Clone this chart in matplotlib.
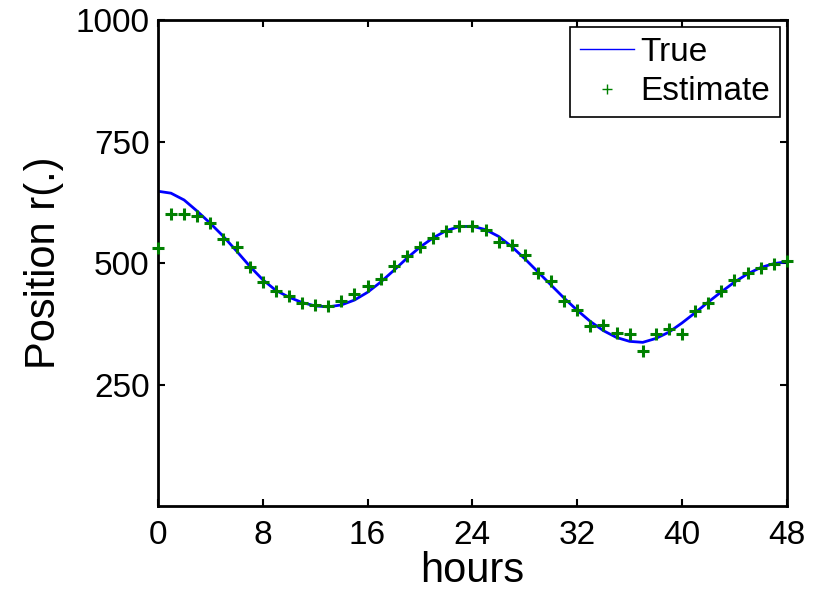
import matplotlib
matplotlib.use('Agg')
import matplotlib.pyplot as plt
from matplotlib.lines import Line2D

plt.rcParams['font.family'] = ['Liberation Sans', 'DejaVu Sans']

# hourly samples, 0..48 h
hours = list(range(0, 49))

true_pos = [648, 644, 630, 607, 582, 555, 525, 494, 466, 444,
            430, 419, 412, 410, 414, 424, 440, 461, 485, 510,
            533, 552, 567, 575, 576, 569, 555, 534, 509, 482,
            455, 428, 403, 380, 361, 347, 339, 337, 345, 358,
            377, 398, 420, 441, 461, 478, 491, 499, 503]

est_pos = [531, 601, 602, 597, 582, 550, 534, 492, 461, 442,
           433, 417, 414, 412, 422, 436, 453, 468, 495, 515,
           534, 552, 566, 576, 576, 569, 544, 538, 516, 480,
           463, 422, 403, 371, 373, 357, 355, 319, 355, 365,
           354, 402, 418, 443, 465, 479, 489, 499, 504]

xticks = [0, 8, 16, 24, 32, 40, 48]
yticks = [250, 500, 750, 1000]

fig = plt.figure(figsize=(8.18, 5.94), dpi=100)
ax = fig.add_axes([0.193, 0.148, 0.769, 0.818])

ax.plot(hours, true_pos, color='blue', lw=2.0)
ax.plot(hours, est_pos, '+', color=(0, 0.5, 0), markersize=9, mew=2.2,
        clip_on=False, zorder=3)

ax.set_xlim(0, 48)
ax.set_ylim(0, 1000)
ax.set_xticks(xticks)
ax.set_yticks(yticks)
ax.tick_params(direction='in', length=5, width=1.5, labelsize=24,
               top=True, right=True)
ax.tick_params(axis='x', pad=10)
ax.tick_params(axis='y', pad=6)
for s in ax.spines.values():
    s.set_linewidth(2)

ax.set_xlabel('hours', fontsize=30, labelpad=0)
ax.set_ylabel('Position r(.)', fontsize=30, labelpad=8)

handles = [Line2D([], [], color='blue', lw=1),
           Line2D([], [], ls='none', marker='+', color=(0, 0.5, 0),
                  markersize=7, mew=1)]
leg = ax.legend(handles, ['True', 'Estimate'], loc='upper right',
                fontsize=24, frameon=True, fancybox=False, framealpha=1,
                edgecolor='black', handlelength=1.6, handletextpad=0.2,
                borderpad=0.3, labelspacing=0.25, borderaxespad=0.2)
leg.get_frame().set_linewidth(1.2)

fig.savefig('out.png', dpi=100)
